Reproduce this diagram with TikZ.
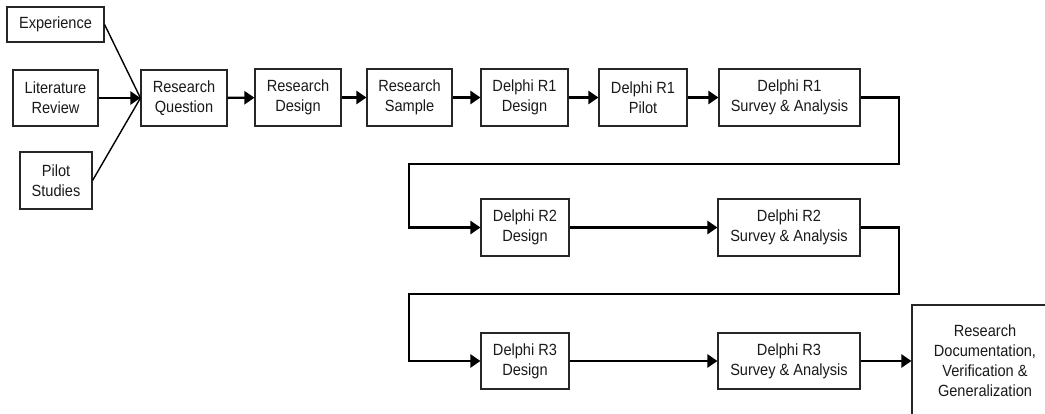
\documentclass[tikz,border=0pt]{standalone}
\usepackage{fontspec}
\setmainfont{Liberation Sans}[FakeStretch=0.9]
\usetikzlibrary{arrows.meta}
\begin{document}
\begin{tikzpicture}[x=1pt,y=-1pt,
  box/.style={draw=black!85,line width=1.1pt,rectangle,inner sep=0pt,align=center,
    font=\fontsize{16.2}{20}\selectfont,text=black!90},
  arr/.style={line width=2.4pt,-{Triangle[length=10pt,width=13pt]}},
  thinline/.style={line width=1.4pt}]
\useasboundingbox (0,0) rectangle (1045,414);
\clip (0,0) rectangle (1045,414);
% column 1
\node[box,minimum width=97pt,minimum height=35pt] (exp) at (55.5,24.5) {Experience};
\node[box,minimum width=85pt,minimum height=56pt] (lit) at (55.5,98) {Literature\\Review};
\node[box,minimum width=72pt,minimum height=57pt] (pil) at (56,180.5) {Pilot\\Studies};
% row 1
\node[box,minimum width=86pt,minimum height=56pt] (rq) at (184,98) {Research\\Question};
\node[box,minimum width=86pt,minimum height=57pt] (rd) at (298,97.5) {Research\\Design};
\node[box,minimum width=85pt,minimum height=57pt] (rs) at (409.5,97.5) {Research\\Sample};
\node[box,minimum width=87pt,minimum height=57pt] (d1d) at (524.5,97.5) {Delphi R1\\Design};
\node[box,minimum width=88pt,minimum height=57pt] (d1p) at (643,97.5) {Delphi R1\\Pilot};
\node[box,minimum width=141pt,minimum height=57pt] (d1s) at (789.5,97.5) {Delphi R1\\Survey \& Analysis};
% row 2
\node[box,minimum width=88pt,minimum height=57pt] (d2d) at (525,227.5) {Delphi R2\\Design};
\node[box,minimum width=142pt,minimum height=57pt] (d2s) at (789,227.5) {Delphi R2\\Survey \& Analysis};
% row 3
\node[box,minimum width=88pt,minimum height=56pt] (d3d) at (525,361) {Delphi R3\\Design};
\node[box,minimum width=142pt,minimum height=56pt] (d3s) at (789,361) {Delphi R3\\Survey \& Analysis};
\node[box,minimum width=146pt,minimum height=112pt] (fin) at (985,361) {Research\\Documentation,\\Verification \&\\Generalization};
% turn coordinates
\coordinate (t1) at (899,164);
\coordinate (l1) at (409,164);
\coordinate (t2) at (899,294);
\coordinate (l2) at (409,294);
% connectors
\draw[thinline] (exp.east) -- (rq.west);
\draw[thinline] (pil.east) -- (rq.west);
\draw[arr] (lit.east) -- (rq.west);
\draw[arr] (rq) -- (rd);
\draw[arr] (rd) -- (rs);
\draw[arr] (rs) -- (d1d);
\draw[arr] (d1d) -- (d1p);
\draw[arr] (d1p) -- (d1s);
\draw[arr] (d1s.east) -| (t1) -- (l1) |- (d2d.west);
\draw[arr] (d2d) -- (d2s);
\draw[arr] (d2s.east) -| (t2) -- (l2) |- (d3d.west);
\draw[arr] (d3d) -- (d3s);
\draw[arr] (d3s) -- (fin);
\end{tikzpicture}
\end{document}
